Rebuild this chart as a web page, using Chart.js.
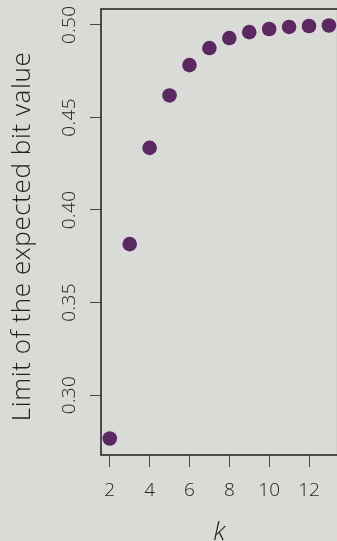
<!DOCTYPE html>
<html>
<head>
<meta charset="utf-8">
<script src="https://cdn.jsdelivr.net/npm/chart.js@4.4.1/dist/chart.umd.min.js"></script>
<style>
  html, body { margin: 0; padding: 0; background: #d9dbd6; overflow: hidden; }
  #wrap { width: 337px; height: 541px; overflow: hidden; position: relative; background: #d9dbd6; }
  canvas { display: block; }
</style>
</head>
<body>
<div id="wrap"><canvas id="chart" width="345" height="560"></canvas></div>
<script>
// k and the limit of the expected bit value for each k
const kValues = [2, 3, 4, 5, 6, 7, 8, 9, 10, 11, 12, 13];
const limitValues = [0.2765, 0.3815, 0.4335, 0.4618, 0.4782, 0.4874, 0.4928, 0.4960, 0.4977, 0.4988, 0.4993, 0.4996];

// axis ticks and labels
const xTicks = [2, 4, 6, 8, 10, 12];
const yTicks = [0.30, 0.35, 0.40, 0.45, 0.50];
const yTickLabels = ['0.30', '0.35', '0.40', '0.45', '0.50'];
const xTitle = 'k';
const yTitle = 'Limit of the expected bit value';

const FONT = "'Open Sans', 'DejaVu Sans', sans-serif";
const INK = '#222222';
const POINT = '#5b2862';

// box around the plotting region, rotated y tick labels and y title
const frame = {
  id: 'frame',
  afterDraw(chart) {
    const { ctx, chartArea: a, scales } = chart;
    ctx.save();
    ctx.strokeStyle = '#1c1c1c';
    ctx.lineWidth = 1.5;
    ctx.strokeRect(a.left, a.top, a.right - a.left, a.bottom - a.top);

    ctx.fillStyle = INK;
    ctx.textAlign = 'center';
    ctx.textBaseline = 'alphabetic';
    ctx.font = "300 19px " + FONT;
    ctx.letterSpacing = '0.4px';
    yTicks.forEach((v, i) => {
      const py = scales.y.getPixelForValue(v);
      ctx.save();
      ctx.translate(75, py);
      ctx.rotate(-Math.PI / 2);
      ctx.fillText(yTickLabels[i], 0, 0);
      ctx.restore();
    });

    // y title, centred a little below the middle of the plotting region
    ctx.font = "300 26px " + FONT;
    ctx.letterSpacing = '0.6px';
    ctx.save();
    ctx.translate(29.5, (a.top + a.bottom) / 2 + 4.5);
    ctx.rotate(-Math.PI / 2);
    ctx.fillText(yTitle, 0, 0);
    ctx.restore();
    ctx.restore();
  }
};

new Chart(document.getElementById('chart'), {
  type: 'scatter',
  data: {
    datasets: [{
      data: kValues.map((k, i) => ({ x: k, y: limitValues[i] })),
      backgroundColor: POINT,
      borderWidth: 0,
      pointRadius: 7.3,
      pointHoverRadius: 7.3
    }]
  },
  options: {
    responsive: false,
    animation: false,
    events: [],
    layout: { padding: { left: 0, top: 9, right: 6.4, bottom: 0 } },
    plugins: { legend: { display: false }, tooltip: { enabled: false } },
    scales: {
      x: {
        type: 'linear',
        min: 1.56,
        max: 13.44,
        afterBuildTicks: s => { s.ticks = xTicks.map(v => ({ value: v })); },
        afterFit: s => { s.height = 105; },
        border: { display: false },
        grid: { drawOnChartArea: false, drawTicks: true, tickLength: 12, tickColor: '#444444', lineWidth: 1 },
        ticks: { color: INK, font: { family: FONT, size: 19, weight: 300 }, padding: 12, maxRotation: 0, autoSkip: false },
        title: {
          display: true, text: xTitle, color: INK,
          font: { family: FONT, size: 26, style: 'italic', weight: 300 },
          padding: { top: 0, bottom: 12 }
        }
      },
      y: {
        type: 'linear',
        min: 0.2676,
        max: 0.5085,
        afterBuildTicks: s => { s.ticks = yTicks.map(v => ({ value: v })); },
        afterFit: s => { s.width = 101; },
        border: { display: false },
        grid: { drawOnChartArea: false, drawTicks: true, tickLength: 11, tickColor: '#444444', lineWidth: 1 },
        ticks: { display: false },
        title: { display: false }
      }
    }
  },
  plugins: [frame]
});
</script>
</body>
</html>
